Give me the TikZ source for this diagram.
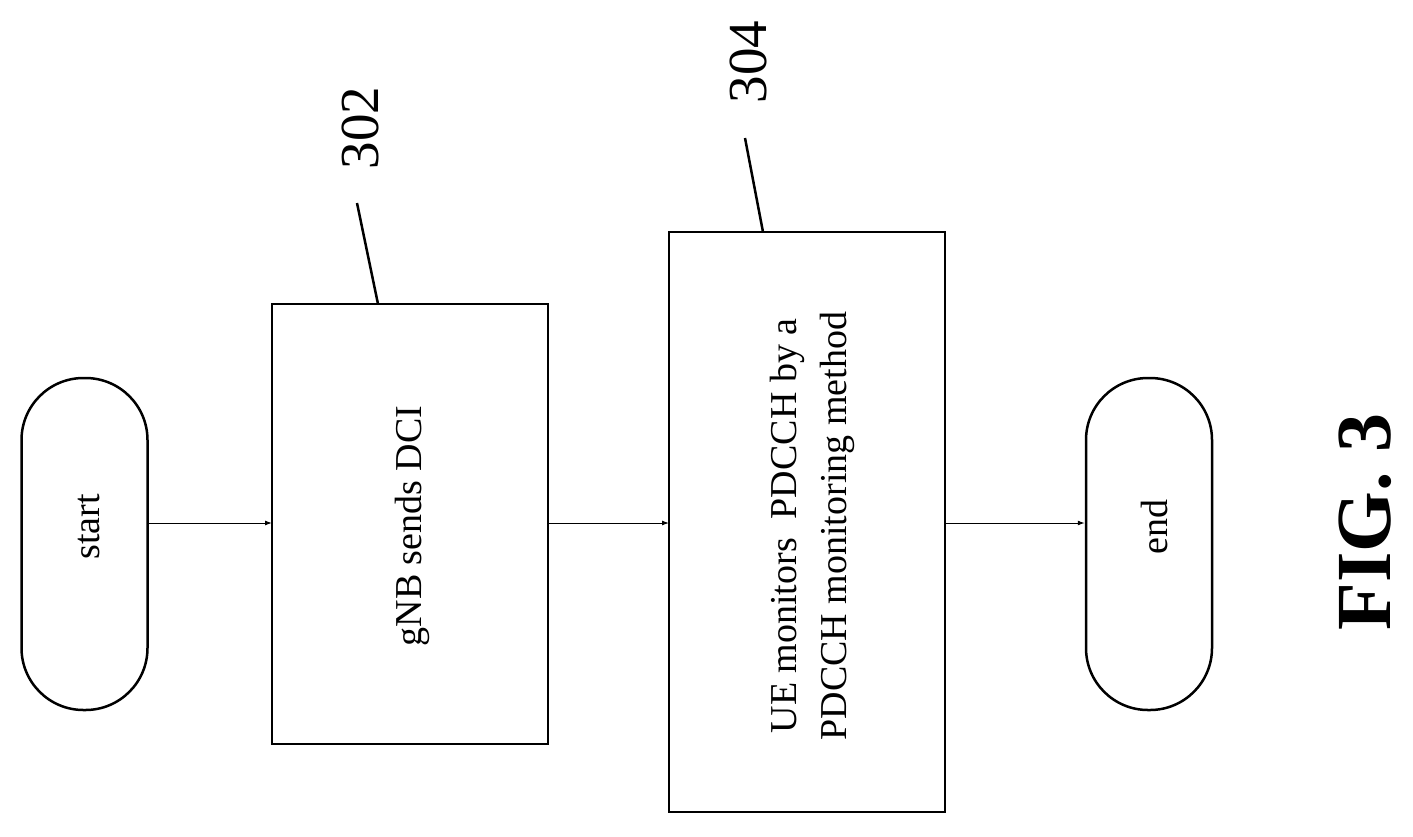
\documentclass[tikz,border=0pt]{standalone}
\usepackage{fontspec}
\setmainfont{Liberation Serif}
\usetikzlibrary{arrows.meta}
\begin{document}
\begin{tikzpicture}[x=1pt,y=-1pt,
  term/.style={draw,line width=2.5pt,rounded corners=62pt,minimum width=332pt,minimum height=126pt,rotate=90},
  txt/.style={rotate=90,font=\fontsize{38}{46}\selectfont},
  arr/.style={-{Latex[length=7pt,width=5pt]},line width=1pt},
  lbl/.style={rotate=90,font=\fontsize{55}{60}\selectfont}]
\useasboundingbox (0,0) rectangle (1413,836);
\node[term] (s) at (84.5,544) {};
\node[term] (e) at (1149,544) {};
\node[txt] (st) at (89,527) {start};
\node[txt] (et) at (1154,527) {end};
\draw[line width=2.5pt] (272,304) rectangle (548,744);
\coordinate (b1w) at (272,523); \coordinate (b1e) at (548,523);
\node[txt] (t1) at (412,526) {gNB sends DCI};
\draw[line width=2.5pt] (669,232) rectangle (945,812);
\coordinate (b2w) at (669,523); \coordinate (b2e) at (945,523);
\node[txt,align=center,font=\fontsize{38}{50}\selectfont] (t2) at (812,526) {UE monitors\ \ PDCCH by a\\PDCCH monitoring method};
\draw[arr] (s.south |- b1w) -- (b1w);
\draw[arr] (b1e) -- (b2w);
\draw[arr] (b2e) -- (e.north |- b2e);
\node[lbl] (l302) at (360,128) {302};
\node[lbl] (l304) at (748,62) {304};
\coordinate (p1) at (357,203); \coordinate (p2) at (378,304);
\coordinate (q1) at (745,138); \coordinate (q2) at (763,232);
\draw[line width=2.5pt] (p1) -- (p2);
\draw[line width=2.5pt] (q1) -- (q2);
\node[rotate=90,font=\bfseries\fontsize{78}{82}\selectfont] (fig) at (1365,522) {FIG. 3};
\end{tikzpicture}
\end{document}
